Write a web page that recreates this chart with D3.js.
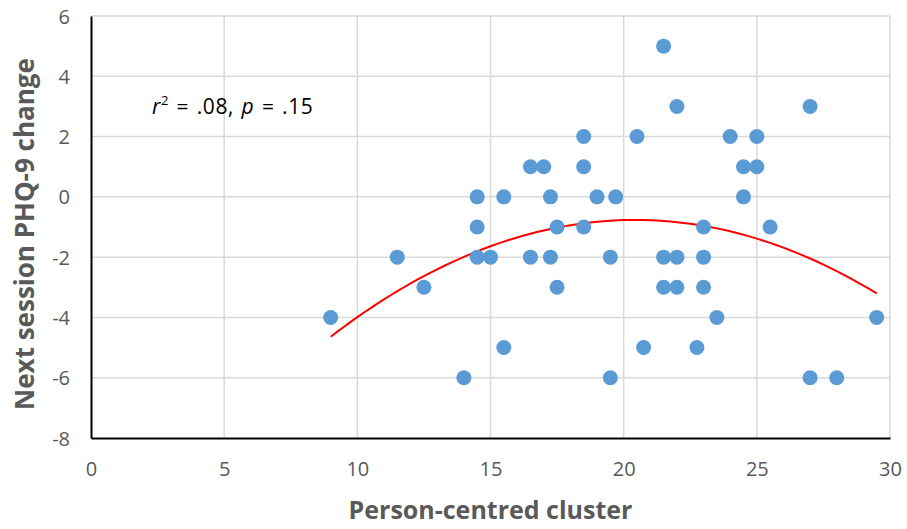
<!DOCTYPE html>
<html>
<head>
<meta charset="utf-8">
<script src="https://cdn.jsdelivr.net/npm/d3@7"></script>
<style>
	body { margin: 0; background: #fff; }
	text { font-family: "Open Sans", "Noto Sans", sans-serif; }
</style>
</head>
<body>
<div id="chart"></div>
<script>
// person-centred cluster score (x) vs next session PHQ-9 change (y)
var clusterScores = [
	21.5, 22, 27, 18.5, 20.5, 24, 25,
	16.5, 17, 18.5, 24.5, 25,
	14.5, 15.5, 17.25, 19, 19.7, 24.5,
	14.5, 17.5, 18.5, 23, 25.5,
	11.5, 14.5, 15, 16.5, 17.25, 19.5, 21.5, 22, 23,
	12.5, 17.5, 21.5, 22, 23,
	9, 23.5, 29.5,
	15.5, 20.75, 22.75,
	14, 19.5, 27, 28
];
var phqChanges = [
	5, 3, 3, 2, 2, 2, 2,
	1, 1, 1, 1, 1,
	0, 0, 0, 0, 0, 0,
	-1, -1, -1, -1, -1,
	-2, -2, -2, -2, -2, -2, -2, -2, -2,
	-3, -3, -3, -3, -3,
	-4, -4, -4,
	-5, -5, -5,
	-6, -6, -6, -6
];
var xTicks = [0, 5, 10, 15, 20, 25, 30];
var yTicks = [-8, -6, -4, -2, 0, 2, 4, 6];

(function () {
	var width = 907;
	var height = 529;
	var margin = { top: 16, right: 17, bottom: 91, left: 91 };
	var gridColor = '#d9d9d9';
	var fontColor = '#595959';
	var dotColor = '#5b9bd5';

	var points = clusterScores.map((x, i) => ({ x: x, y: phqChanges[i] }));

	var x = d3.scaleLinear().domain([0, 30]).range([margin.left, width - margin.right]);
	var y = d3.scaleLinear().domain([-8, 6]).range([height - margin.bottom, margin.top]);

	var svg = d3.select('#chart').append('svg')
		.attr('width', width).attr('height', height);

	// gridlines
	svg.append('g').selectAll('line')
		.data(xTicks.slice(1))
		.enter().append('line')
		.attr('x1', d => x(d)).attr('x2', d => x(d))
		.attr('y1', y(-8)).attr('y2', y(6))
		.attr('stroke', gridColor).attr('stroke-width', 1.5);
	svg.append('g').selectAll('line')
		.data(yTicks.slice(1))
		.enter().append('line')
		.attr('x1', x(0)).attr('x2', x(30))
		.attr('y1', d => y(d)).attr('y2', d => y(d))
		.attr('stroke', gridColor).attr('stroke-width', 1.5);

	// axes (plain hyphen for negatives, like the original)
	var fmt = d => String(d);
	var xAxis = svg.append('g')
		.attr('transform', 'translate(0,' + y(-8) + ')')
		.call(d3.axisBottom(x).tickValues(xTicks).tickFormat(fmt).tickSize(0).tickPadding(24));
	var yAxis = svg.append('g')
		.attr('transform', 'translate(' + x(0) + ',0)')
		.call(d3.axisLeft(y).tickValues(yTicks).tickFormat(fmt).tickSize(0).tickPadding(21));
	[xAxis, yAxis].forEach(a => {
		a.select('.domain').attr('stroke', '#000').attr('stroke-width', 2);
		a.selectAll('text').attr('fill', fontColor).attr('font-size', 20);
	});
	yAxis.selectAll('text').attr('dy', '0.35em');

	// quadratic trendline, least squares on the data
	var s = [0, 0, 0, 0, 0], t = [0, 0, 0];
	points.forEach(p => {
		for (var k = 0; k < 5; k++) s[k] += Math.pow(p.x, k);
		for (var k = 0; k < 3; k++) t[k] += p.y * Math.pow(p.x, k);
	});
	var m = [[s[0], s[1], s[2], t[0]], [s[1], s[2], s[3], t[1]], [s[2], s[3], s[4], t[2]]];
	for (var i = 0; i < 3; i++) {
		for (var j = i + 1; j < 3; j++) {
			var f = m[j][i] / m[i][i];
			for (var k = i; k < 4; k++) m[j][k] -= f * m[i][k];
		}
	}
	var c = [0, 0, 0];
	for (var i = 2; i >= 0; i--) {
		var sum = m[i][3];
		for (var k = i + 1; k < 3; k++) sum -= m[i][k] * c[k];
		c[i] = sum / m[i][i];
	}
	var xExtent = d3.extent(points, p => p.x);
	var curve = d3.range(xExtent[0], xExtent[1] + 0.001, 0.25)
		.map(v => [v, c[0] + c[1] * v + c[2] * v * v]);

	svg.append('path')
		.attr('d', d3.line().x(d => x(d[0])).y(d => y(d[1]))(curve))
		.attr('fill', 'none')
		.attr('stroke', '#ff0000')
		.attr('stroke-width', 2);

	// dots
	svg.append('g').selectAll('circle')
		.data(points)
		.enter().append('circle')
		.attr('cx', d => x(d.x))
		.attr('cy', d => y(d.y))
		.attr('r', 7.5)
		.attr('fill', dotColor);

	// annotation
	var note = svg.append('text')
		.attr('x', 152).attr('y', 114)
		.attr('font-size', 21)
		.attr('letter-spacing', 0.6)
		.attr('word-spacing', 1.5)
		.attr('fill', '#000');
	note.append('tspan').attr('font-style', 'italic').text('r');
	note.append('tspan').attr('font-size', 13).attr('dy', -9).text('2');
	note.append('tspan').attr('dy', 9).text(' = .08, ');
	note.append('tspan').attr('font-style', 'italic').text('p');
	note.append('tspan').text(' = .15');

	// axis titles
	svg.append('text')
		.attr('x', (x(0) + x(30)) / 2).attr('y', 519)
		.attr('text-anchor', 'middle')
		.attr('font-size', 25).attr('font-weight', 'bold')
		.attr('fill', fontColor)
		.text('Person-centred cluster');
	svg.append('text')
		.attr('transform', 'translate(34,234) rotate(-90)')
		.attr('text-anchor', 'middle')
		.attr('font-size', 26).attr('font-weight', 'bold')
		.attr('fill', fontColor)
		.text('Next session PHQ-9 change');
})();
</script>
</body>
</html>
